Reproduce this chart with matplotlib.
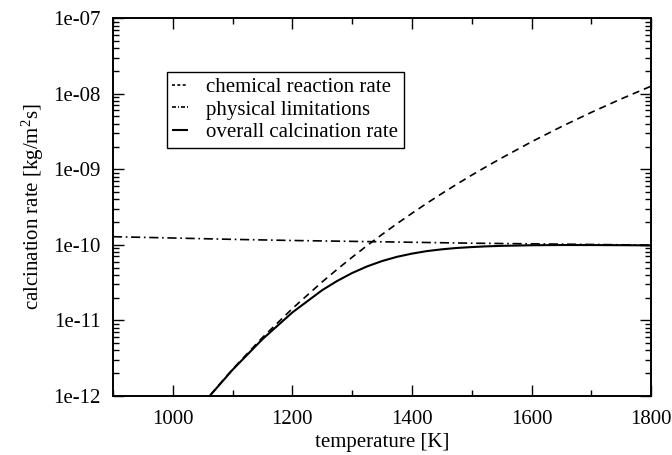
import matplotlib
matplotlib.use("Agg")
import matplotlib.pyplot as plt
from matplotlib.ticker import LogLocator, MultipleLocator

plt.rcParams['font.family'] = ['Liberation Serif', 'DejaVu Serif']
plt.rcParams['mathtext.fontset'] = 'custom'
plt.rcParams['mathtext.rm'] = 'Liberation Serif'
plt.rcParams['mathtext.it'] = 'Liberation Serif:italic'

# Chemical reaction rate (dashed) [kg/m^2 s]
chem_T = [1050, 1100, 1150, 1200, 1250, 1275, 1300, 1325, 1350, 1375, 1400,
          1425, 1450, 1475, 1500, 1525, 1550, 1600, 1650, 1700, 1750, 1800]
chem_rate = [7.83e-13, 2.25e-12, 5.91e-12, 1.43e-11, 3.23e-11, 4.73e-11, 6.84e-11,
             9.75e-11, 1.37e-10, 1.905e-10, 2.61e-10, 3.55e-10, 4.77e-10, 6.34e-10,
             8.36e-10, 1.09e-9, 1.41e-9, 2.31e-9, 3.67e-9, 5.67e-9, 8.55e-9, 1.26e-8]

# Physical limitations (dash-dot)
phys_T = [900, 1000, 1100, 1200, 1300, 1400, 1500, 1600, 1700, 1800]
phys_rate = [1.28e-10, 1.23e-10, 1.18e-10, 1.14e-10, 1.11e-10, 1.08e-10,
             1.05e-10, 1.03e-10, 1.01e-10, 0.99e-10]

# Overall calcination rate (solid)
overall_T = [1050, 1100, 1150, 1200, 1250, 1275, 1300, 1325, 1350, 1375, 1400,
             1425, 1450, 1475, 1500, 1525, 1550, 1600, 1650, 1700, 1750, 1800]
overall_rate = [7.78e-13, 2.21e-12, 5.62e-12, 1.27e-11, 2.51e-11, 3.32e-11, 4.23e-11,
                5.17e-11, 6.09e-11, 6.93e-11, 7.64e-11, 8.25e-11, 8.71e-11, 9.08e-11,
                9.33e-11, 9.54e-11, 9.68e-11, 9.86e-11, 9.93e-11, 9.92e-11, 9.88e-11,
                9.82e-11]

x_ticks = [1000, 1200, 1400, 1600, 1800]
y_ticks = [1e-12, 1e-11, 1e-10, 1e-9, 1e-8, 1e-7]
y_ticklabels = ['1e-12', '1e-11', '1e-10', '1e-09', '1e-08', '1e-07']

fs = 15

fig = plt.figure(figsize=(6.72, 4.55), dpi=100)
ax = fig.add_axes([0.168, 0.130, 0.801, 0.830])

lw = 1.2
ax.plot(chem_T, chem_rate, color='black', lw=lw, dashes=(4.3, 3.0),
        label='chemical reaction rate')
ax.plot(phys_T, phys_rate, color='black', lw=lw, dashes=(5.5, 2.2, 1.0, 2.2),
        label='physical limitations')
ax.plot(overall_T, overall_rate, color='black', lw=1.5, solid_capstyle='butt',
        label='overall calcination rate')

ax.set_yscale('log')
ax.set_xlim(900, 1800)
ax.set_ylim(1e-12, 1e-7)

ax.set_xticks(x_ticks)
ax.set_xticklabels([str(t) for t in x_ticks])
ax.xaxis.set_minor_locator(MultipleLocator(100))
ax.set_yticks(y_ticks)
ax.set_yticklabels(y_ticklabels)
ax.yaxis.set_minor_locator(LogLocator(base=10, subs=range(2, 10), numticks=20))
ax.yaxis.set_minor_formatter(plt.NullFormatter())

ax.tick_params(which='both', direction='in', top=True, right=True,
               width=1.0, labelsize=fs, colors='black')
ax.tick_params(which='major', length=8)
ax.tick_params(which='minor', length=4.5)
ax.tick_params(axis='x', which='major', pad=10)
ax.tick_params(axis='y', which='major', pad=9)
for s in ax.spines.values():
    s.set_linewidth(1.4)

ax.set_xlabel('temperature [K]', fontsize=fs, labelpad=3)
ax.set_ylabel('calcination rate [kg/m$^2$s]', fontsize=fs, labelpad=5)

leg = ax.legend(loc='upper left', bbox_to_anchor=(0.1, 0.857), fontsize=fs,
                handlelength=0.75, handletextpad=0.9, borderpad=0.25,
                borderaxespad=0, labelspacing=0.15, fancybox=False,
                framealpha=1, edgecolor='black')
leg.get_frame().set_linewidth(1.0)
# finer dash patterns for the short legend samples
handles = leg.legend_handles
handles[0].set_dashes((1.8, 1.4))
handles[1].set_dashes((2.4, 1.2, 0.6, 1.2))

fig.savefig('out.png', dpi=100)
